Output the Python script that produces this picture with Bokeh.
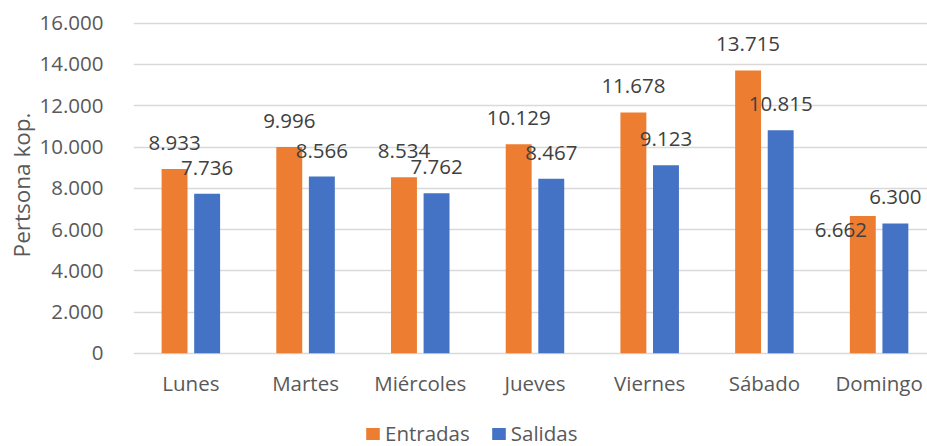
from bokeh.plotting import figure
from bokeh.layouts import column
from bokeh.models import (Range1d, FixedTicker, ColumnDataSource, Legend, LegendItem)
from bokeh.core.properties import value
from bokeh.embed import file_html
from bokeh.resources import INLINE

days = ["Lunes", "Martes", "Miércoles", "Jueves", "Viernes", "Sábado", "Domingo"]
entradas = [8933, 9996, 8534, 10129, 11678, 13715, 6662]
salidas = [7736, 8566, 7762, 8467, 9123, 10815, 6300]
y_ticks = [0, 2000, 4000, 6000, 8000, 10000, 12000, 14000, 16000]

ORANGE = "#ED7D31"
BLUE = "#4472C4"
FONT = "Open Sans"
AXIS_TXT = "#595959"
LBL_TXT = "#404040"
FS = "20.5px"

def fmt(v):
    return f"{v:,}".replace(",", ".")

centers = [i + 0.5 for i in range(len(days))]
dodge = 0.142
bw = 0.226

p = figure(width=927, height=400, output_backend="svg", toolbar_location=None,
           x_range=Range1d(0, 6.922), y_range=Range1d(-200, 16520),
           min_border_left=133, min_border_right=0, min_border_top=12, min_border_bottom=43)
p.outline_line_color = None

src_e = ColumnDataSource(dict(x=[c - dodge for c in centers], top=entradas,
                              label=[fmt(v) for v in entradas],
                              xo=[0] * 6 + [-22], yo=[-26] * 6 + [14]))
src_s = ColumnDataSource(dict(x=[c + dodge for c in centers], top=salidas,
                              label=[fmt(v) for v in salidas],
                              xo=[0] * 7, yo=[-26] * 7))

p.vbar(x="x", top="top", bottom=0, width=bw, source=src_e, fill_color=ORANGE, line_color=None)
p.vbar(x="x", top="top", bottom=0, width=bw, source=src_s, fill_color=BLUE, line_color=None)

for src in (src_e, src_s):
    p.text(x="x", y="top", text="label", source=src, x_offset="xo", y_offset="yo",
           text_align="center", text_baseline="middle", text_font=value(FONT),
           text_font_size=FS, text_color=LBL_TXT)

# x axis
p.xaxis.ticker = FixedTicker(ticks=centers)
p.xaxis.major_label_overrides = {c: d for c, d in zip(centers, days)}
p.xaxis.axis_line_color = None
p.xaxis.major_tick_line_color = None
p.xaxis.minor_tick_line_color = None
p.xaxis.major_label_text_font = FONT
p.xaxis.major_label_text_font_size = FS
p.xaxis.major_label_text_color = AXIS_TXT
p.xaxis.major_label_standoff = 5
p.xgrid.grid_line_color = None

# y axis
p.yaxis.ticker = FixedTicker(ticks=y_ticks)
p.yaxis.major_label_overrides = {t: fmt(t) for t in y_ticks}
p.yaxis.axis_line_color = None
p.yaxis.major_tick_line_color = None
p.yaxis.minor_tick_line_color = None
p.yaxis.major_label_text_font = FONT
p.yaxis.major_label_text_font_size = FS
p.yaxis.major_label_text_color = AXIS_TXT
p.yaxis.major_label_standoff = 24
p.yaxis.axis_label = "Pertsona kop."
p.yaxis.axis_label_text_font = FONT
p.yaxis.axis_label_text_font_size = "22.5px"
p.yaxis.axis_label_text_font_style = "normal"
p.yaxis.axis_label_text_color = AXIS_TXT
p.yaxis.axis_label_standoff = 0
p.ygrid.grid_line_color = "#D9D9D9"
p.ygrid.grid_line_width = 1.3

# legend strip (frame aligned with the main plot's frame by the column layout)
lg = figure(width=927, height=46, output_backend="svg", toolbar_location=None,
            x_range=Range1d(0, 1), y_range=Range1d(0, 1),
            x_axis_type=None, y_axis_type=None, min_border=0)
lg.outline_line_color = None
k_e = lg.vbar(x=[0], top=[0], width=0, fill_color=ORANGE, line_color=None)
k_s = lg.vbar(x=[0], top=[0], width=0, fill_color=BLUE, line_color=None)
legend = Legend(items=[LegendItem(label="Entradas", renderers=[k_e]),
                       LegendItem(label="Salidas", renderers=[k_s])],
                orientation="horizontal", location=(231, -1),
                padding=0, margin=0, spacing=20, label_standoff=4,
                glyph_width=17, glyph_height=15,
                border_line_color=None, background_fill_alpha=0,
                label_text_font=FONT, label_text_font_size=FS,
                label_text_color=AXIS_TXT)
lg.add_layout(legend, "center")

open("out.html", "w").write(file_html(column(p, lg, spacing=0), INLINE))
